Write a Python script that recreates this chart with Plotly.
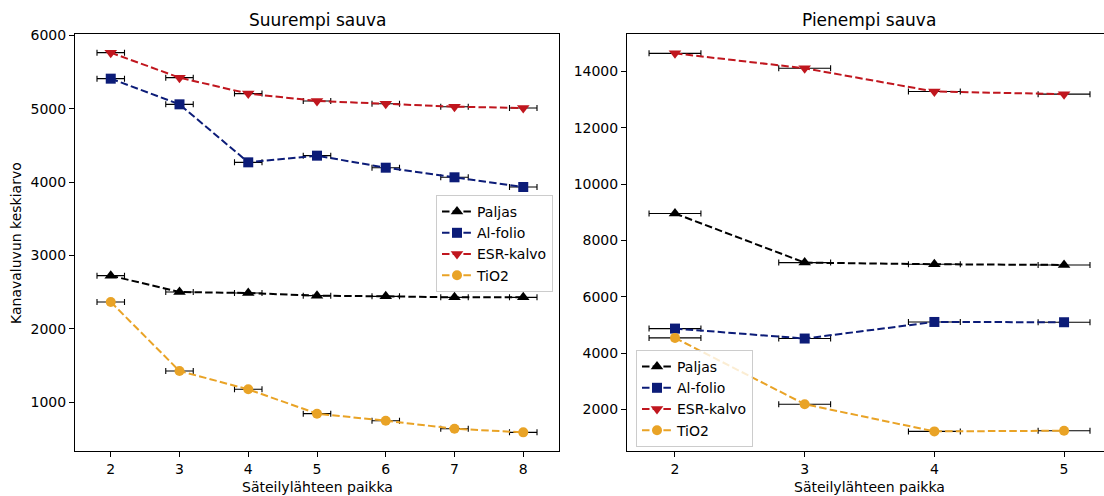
import plotly.graph_objects as go

W, H = 1104, 496

# ---- data ----
x_big = [2, 3, 4, 5, 6, 7, 8]
paljas_big = [2723, 2500, 2486, 2450, 2441, 2427, 2427]
alfolio_big = [5409, 5059, 4268, 4359, 4195, 4064, 3932]
esr_big = [5764, 5423, 5205, 5105, 5066, 5027, 5009]
tio2_big = [2364, 1423, 1173, 841, 745, 636, 586]

x_small = [2, 3, 4, 5]
paljas_small = [8953, 7212, 7153, 7129]
alfolio_small = [4871, 4518, 5106, 5096]
esr_small = [14635, 14106, 13282, 13188]
tio2_small = [4541, 2188, 1224, 1247]

x_err = 0.2
series_names = ["Paljas", "Al-folio", "ESR-kalvo", "TiO2"]
colors = ["#000000", "#0c1c78", "#c0161e", "#e9a326"]
symbols = ["triangle-up", "square", "triangle-down", "circle"]
sizes = [11, 10, 11, 10]

yticks_big = [1000, 2000, 3000, 4000, 5000, 6000]
yticks_small = [2000, 4000, 6000, 8000, 10000, 12000, 14000]

FONT = "DejaVu Sans"

fig = go.Figure()

def add_series(xs, ys_list, xaxis, yaxis, legend):
    for name, ys, c, s, sz in zip(series_names, ys_list, colors, symbols, sizes):
        fig.add_trace(go.Scatter(
            x=xs, y=ys, name=name, mode="lines+markers",
            line=dict(color=c, width=2, dash="7.5px,3.2px"),
            marker=dict(color=c, symbol=s, size=sz, line=dict(width=0)),
            error_x=dict(type="constant", value=x_err, color="black",
                         thickness=1.1, width=3),
            xaxis=xaxis, yaxis=yaxis, legend=legend,
        ))

add_series(x_big, [paljas_big, alfolio_big, esr_big, tio2_big], "x", "y", "legend")
add_series(x_small, [paljas_small, alfolio_small, esr_small, tio2_small], "x2", "y2", "legend2")

def px_x(p):
    return p / W

def px_y(p):
    return (H - p) / H

ydom = [px_y(451), px_y(34)]
axis_common = dict(
    showgrid=False, zeroline=False, showline=True, linecolor="black", linewidth=1,
    ticks="outside", ticklen=5, tickwidth=1, tickcolor="black", automargin=False,
    tickfont=dict(family=FONT, size=14, color="black"),
)

fig.update_layout(
    template="none",
    width=W, height=H,
    margin=dict(l=0, r=0, t=0, b=0, pad=0),
    paper_bgcolor="white", plot_bgcolor="white",
    font=dict(family=FONT, size=14, color="black"),
    xaxis=dict(domain=[px_x(75), px_x(559)], range=[1.48, 8.52],
               tickmode="array", tickvals=x_big, ticktext=[str(v) for v in x_big],
               mirror=True, anchor="y", **axis_common),
    yaxis=dict(domain=ydom, range=[332, 6018], tickmode="array",
               tickvals=yticks_big, ticktext=[str(v) for v in yticks_big],
               mirror=True, anchor="x", **axis_common),
    xaxis2=dict(domain=[px_x(627), 1.0], range=[1.63, 5.308],
                tickmode="array", tickvals=x_small, ticktext=[str(v) for v in x_small],
                mirror=True, anchor="y2", **axis_common),
    yaxis2=dict(domain=ydom, range=[528, 15322], tickmode="array",
                tickvals=yticks_small, ticktext=[str(v) for v in yticks_small],
                mirror=False, anchor="x2", **axis_common),
    legend=dict(x=px_x(553), y=px_y(195), xanchor="right", yanchor="top",
                bgcolor="rgba(255,255,255,0.8)", bordercolor="#cccccc", borderwidth=1,
                font=dict(family=FONT, size=14, color="black"), tracegroupgap=0),
    legend2=dict(x=px_x(636), y=px_y(447), xanchor="left", yanchor="bottom",
                 bgcolor="rgba(255,255,255,0.8)", bordercolor="#cccccc", borderwidth=1,
                 font=dict(family=FONT, size=14, color="black"), tracegroupgap=0),
    showlegend=True,
)

annots = [
    dict(text="Suurempi sauva", x=px_x(317), y=px_y(20), size=17, angle=0),
    dict(text="Pienempi sauva", x=px_x(869), y=px_y(20), size=17, angle=0),
    dict(text="Säteilylähteen paikka", x=px_x(317), y=px_y(487), size=14, angle=0),
    dict(text="Säteilylähteen paikka", x=px_x(869), y=px_y(487), size=14, angle=0),
    dict(text="Kanavaluvun keskiarvo", x=px_x(16), y=px_y(243), size=14, angle=-90),
]
for a in annots:
    fig.add_annotation(text=a["text"], x=a["x"], y=a["y"], xref="paper", yref="paper",
                       xanchor="center", yanchor="middle", showarrow=False,
                       textangle=a["angle"],
                       font=dict(family=FONT, size=a["size"], color="black"))

fig.write_html("out.html")
